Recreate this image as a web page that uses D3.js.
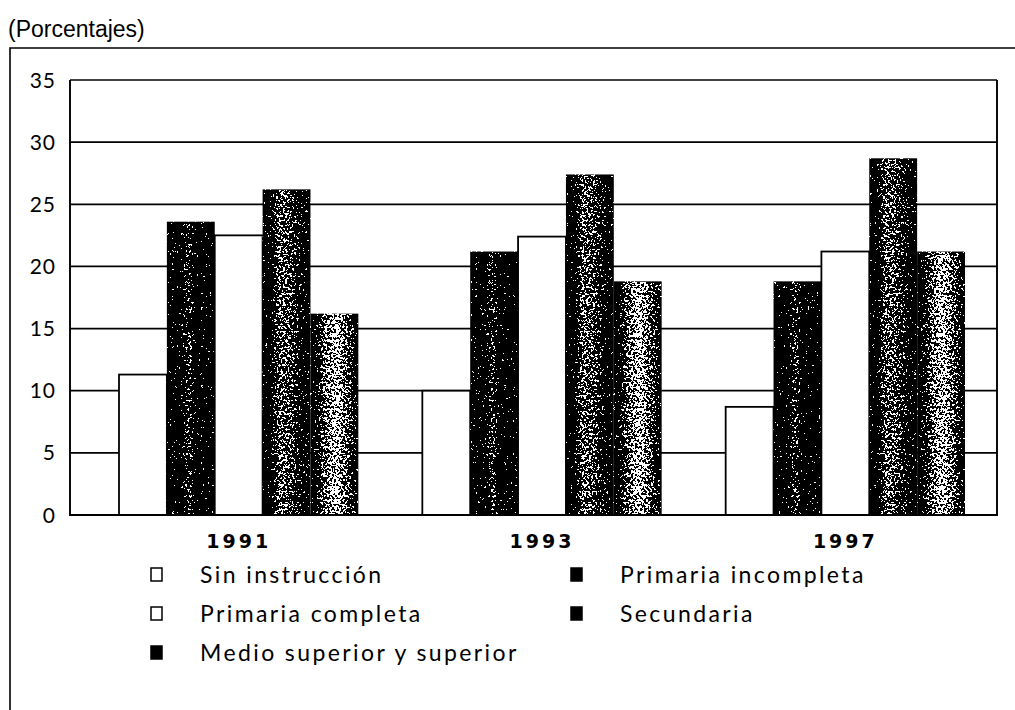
<!DOCTYPE html>
<html>
<head>
<meta charset="utf-8">
<script src="https://cdn.jsdelivr.net/npm/d3@7/dist/d3.min.js"></script>
<style>
  body { margin: 0; background: #fff; }
  text { fill: #000; }
</style>
</head>
<body>
<script>
// categories and series
var years = ["1991", "1993", "1997"];
var seriesNames = ["Sin instrucción", "Primaria incompleta", "Primaria completa", "Secundaria", "Medio superior y superior"];
var sinInstruccion = [11.3, 10.0, 8.7];
var primariaIncompleta = [23.6, 21.2, 18.8];
var primariaCompleta = [22.5, 22.4, 21.2];
var secundaria = [26.2, 27.4, 28.7];
var medioSuperior = [16.2, 18.8, 21.2];
var yTicks = [0, 5, 10, 15, 20, 25, 30, 35];

var values = [sinInstruccion, primariaIncompleta, primariaCompleta, secundaria, medioSuperior];
var fills = ["white", "url(#gPI)", "white", "url(#gSec)", "url(#gMed)"];

var w = 1015;
var h = 710;
var plotLeft = 70, plotRight = 997, plotTop = 80, plotBottom = 515;

var svg = d3.select("body")
    .append("svg")
    .attr("width", w)
    .attr("height", h);

var defs = svg.append("defs");

// horizontal gradients that give the bars their dark edges and lighter core
function grad(id, stops) {
    var g = defs.append("linearGradient").attr("id", id)
        .attr("x1", 0).attr("x2", 1).attr("y1", 0).attr("y2", 0);
    stops.forEach(function(s) {
        g.append("stop").attr("offset", s[0]).attr("stop-color", s[1]);
    });
}
grad("gPI", [[0, "#000"], [0.3, "#000"], [0.47, "#4a4a4a"], [0.6, "#000"], [1, "#000"]]);
grad("gSec", [[0, "#000"], [0.15, "#000"], [0.35, "#666"], [0.55, "#5a5a5a"], [0.85, "#111"], [1, "#000"]]);
grad("gMed", [[0, "#000"], [0.1, "#111"], [0.3, "#6a6a6a"], [0.55, "#a0a0a0"], [0.85, "#444"], [1, "#000"]]);

// speckle: add noise to the grey and threshold it, like a print halftone
var f = defs.append("filter").attr("id", "speckle")
    .attr("color-interpolation-filters", "sRGB");
f.append("feTurbulence").attr("type", "fractalNoise")
    .attr("baseFrequency", 0.45).attr("numOctaves", 3).attr("seed", 7).attr("result", "noise");
f.append("feColorMatrix").attr("in", "noise").attr("type", "matrix")
    .attr("values", "1 0 0 0 0  1 0 0 0 0  1 0 0 0 0  0 0 0 0 1").attr("result", "n");
f.append("feComposite").attr("in", "SourceGraphic").attr("in2", "n")
    .attr("operator", "arithmetic").attr("k1", 0).attr("k2", 1).attr("k3", 2.2).attr("k4", -1.1)
    .attr("result", "sum");
var ct = f.append("feComponentTransfer").attr("in", "sum").attr("result", "bin");
["feFuncR", "feFuncG", "feFuncB"].forEach(function(fn) {
    ct.append(fn).attr("type", "discrete").attr("tableValues", "0 1");
});
f.append("feComposite").attr("in", "bin").attr("in2", "SourceAlpha").attr("operator", "in");

var x0 = d3.scaleBand()
    .domain(years)
    .range([87, plotRight])
    .paddingInner(0.211)
    .paddingOuter(0.1055);

var x1 = d3.scaleBand()
    .domain(d3.range(seriesNames.length))
    .range([0, x0.bandwidth()]);

var y = d3.scaleLinear()
    .domain([0, 35])
    .range([plotBottom, plotTop]);

// title and outer frame
svg.append("text")
    .attr("x", 8).attr("y", 37)
    .style("font-family", "Liberation Sans, Arial, sans-serif")
    .style("font-size", "23px")
    .text("(Porcentajes)");

svg.append("path")
    .attr("d", "M10," + h + "V48H" + w)
    .attr("fill", "none").attr("stroke", "#000").attr("stroke-width", 1.6);

// gridlines
svg.append("g").selectAll("line")
    .data(yTicks)
    .enter()
    .append("line")
    .attr("x1", plotLeft).attr("x2", plotRight)
    .attr("y1", function(d) { return y(d); })
    .attr("y2", function(d) { return y(d); })
    .attr("stroke", "#000").attr("stroke-width", 1.7);

// y tick labels
svg.append("g").selectAll("text")
    .data(yTicks)
    .enter()
    .append("text")
    .attr("x", 56)
    .attr("y", function(d) { return y(d); })
    .attr("dy", "0.36em")
    .attr("text-anchor", "end")
    .style("font-family", "Lato, sans-serif")
    .style("font-size", "21px")
    .style("letter-spacing", "1px")
    .text(function(d) { return d; });

// bars
var groups = svg.append("g").selectAll("g")
    .data(years)
    .enter()
    .append("g")
    .attr("transform", function(d) { return "translate(" + x0(d) + ",0)"; });

groups.selectAll("rect")
    .data(function(d, i) {
        return values.map(function(arr, s) { return { s: s, v: arr[i] }; });
    })
    .enter()
    .append("rect")
    .attr("x", function(d) { return x1(d.s); })
    .attr("width", x1.bandwidth())
    .attr("y", function(d) { return y(d.v); })
    .attr("height", function(d) { return y(0) - y(d.v); })
    .attr("fill", function(d) { return fills[d.s]; })
    .attr("filter", function(d) { return fills[d.s] === "white" ? null : "url(#speckle)"; })
    .attr("stroke", function(d) { return fills[d.s] === "white" ? "#000" : "none"; })
    .attr("stroke-width", 1.8);

// plot box sides and baseline
svg.append("path")
    .attr("d", "M" + plotLeft + "," + plotTop + "V" + plotBottom + "H" + plotRight + "V" + plotTop)
    .attr("fill", "none").attr("stroke", "#000").attr("stroke-width", 1.9);

// year labels
svg.append("g").selectAll("text")
    .data(years)
    .enter()
    .append("text")
    .attr("x", function(d) { return x0(d) + x0.bandwidth() / 2; })
    .attr("y", 548)
    .attr("text-anchor", "middle")
    .style("font-family", "DejaVu Sans, sans-serif")
    .style("font-weight", "bold")
    .style("font-size", "19px")
    .style("letter-spacing", "3px")
    .text(function(d) { return d; });

// legend
var legendCol = [157, 577];
var legendRow = [575, 614, 653];
var legend = svg.append("g").selectAll("g")
    .data(seriesNames)
    .enter()
    .append("g")
    .attr("transform", function(d, i) {
        return "translate(" + legendCol[i % 2] + "," + legendRow[Math.floor(i / 2)] + ")";
    });

legend.append("rect")
    .attr("x", -6).attr("y", -7)
    .attr("width", 11).attr("height", 13)
    .attr("fill", function(d, i) { return fills[i] === "white" ? "white" : "#000"; })
    .attr("stroke", "#000")
    .attr("stroke-width", 1.5);

legend.append("text")
    .attr("x", 43)
    .attr("dy", "0.36em")
    .style("font-family", "Lato, sans-serif")
    .style("font-size", "23px")
    .style("letter-spacing", "2.4px")
    .text(function(d) { return d; });
</script>
</body>
</html>
